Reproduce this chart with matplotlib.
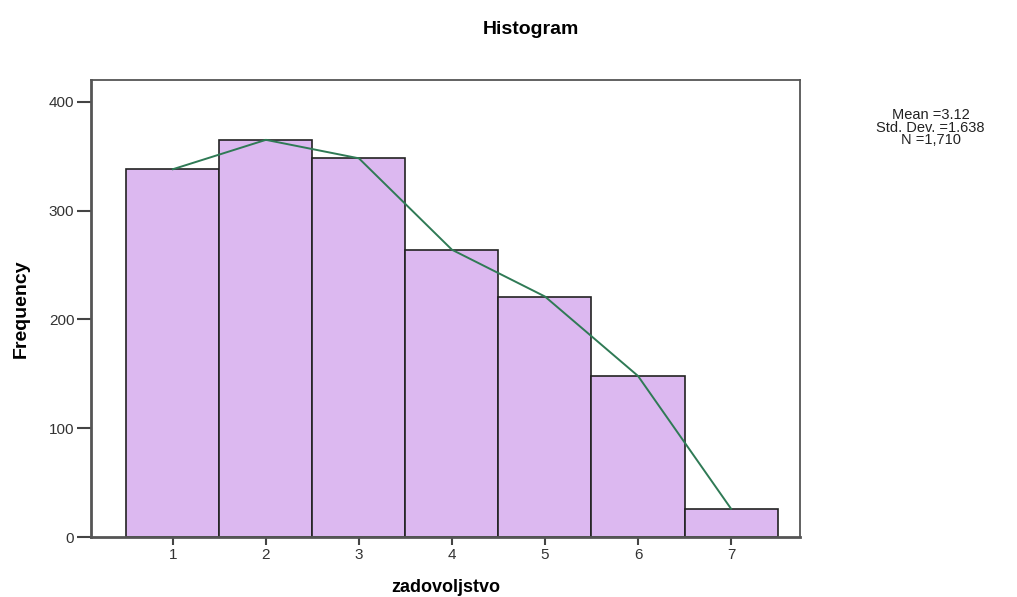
import matplotlib
matplotlib.use("Agg")
from matplotlib import pyplot as plt

plt.rcParams['font.family'] = ['Liberation Sans', 'DejaVu Sans']

# values
categories = [1, 2, 3, 4, 5, 6, 7]
counts = [338, 365, 348, 264, 221, 148, 26]
stats_text = "Mean =3.12\nStd. Dev. =1.638\nN =1,710"

fig = plt.figure(figsize=(10.17, 5.97), dpi=100)
ax = fig.add_axes([0.0895, 0.1005, 0.697, 0.7655])

ax.bar(categories, counts, width=1.0, color='#dcb8f0', edgecolor='#222222', linewidth=1.2)
ax.plot(categories, counts, color='#2f7a55', linewidth=1.4)

ax.set_xlim(0.12, 7.74)
ax.set_ylim(0, 420)
ax.set_xticks(categories)
ax.set_yticks([0, 100, 200, 300, 400])
ax.tick_params(axis='y', length=10, width=1.5, color='#444444', labelsize=11,
               labelcolor='#333333', pad=2)
ax.tick_params(axis='x', length=6, width=1.5, color='#444444', labelsize=11,
               labelcolor='#333333', pad=2)
for s in ax.spines.values():
    s.set_color('#555555')
    s.set_linewidth(1.3)
ax.spines['left'].set_linewidth(2)
ax.spines['bottom'].set_linewidth(2)

ax.set_xlabel('zadovoljstvo', fontsize=13, fontweight='bold', labelpad=12)
ax.set_ylabel('Frequency', fontsize=14, fontweight='bold', fontstretch='condensed', labelpad=14)
fig.suptitle('Histogram', x=0.522, y=0.965, fontsize=14, fontweight='bold')
fig.text(0.915, 0.786, stats_text, ha='center', va='center', fontsize=10.5,
         linespacing=0.85, color='#222222')

fig.savefig('out.png', dpi=100)
